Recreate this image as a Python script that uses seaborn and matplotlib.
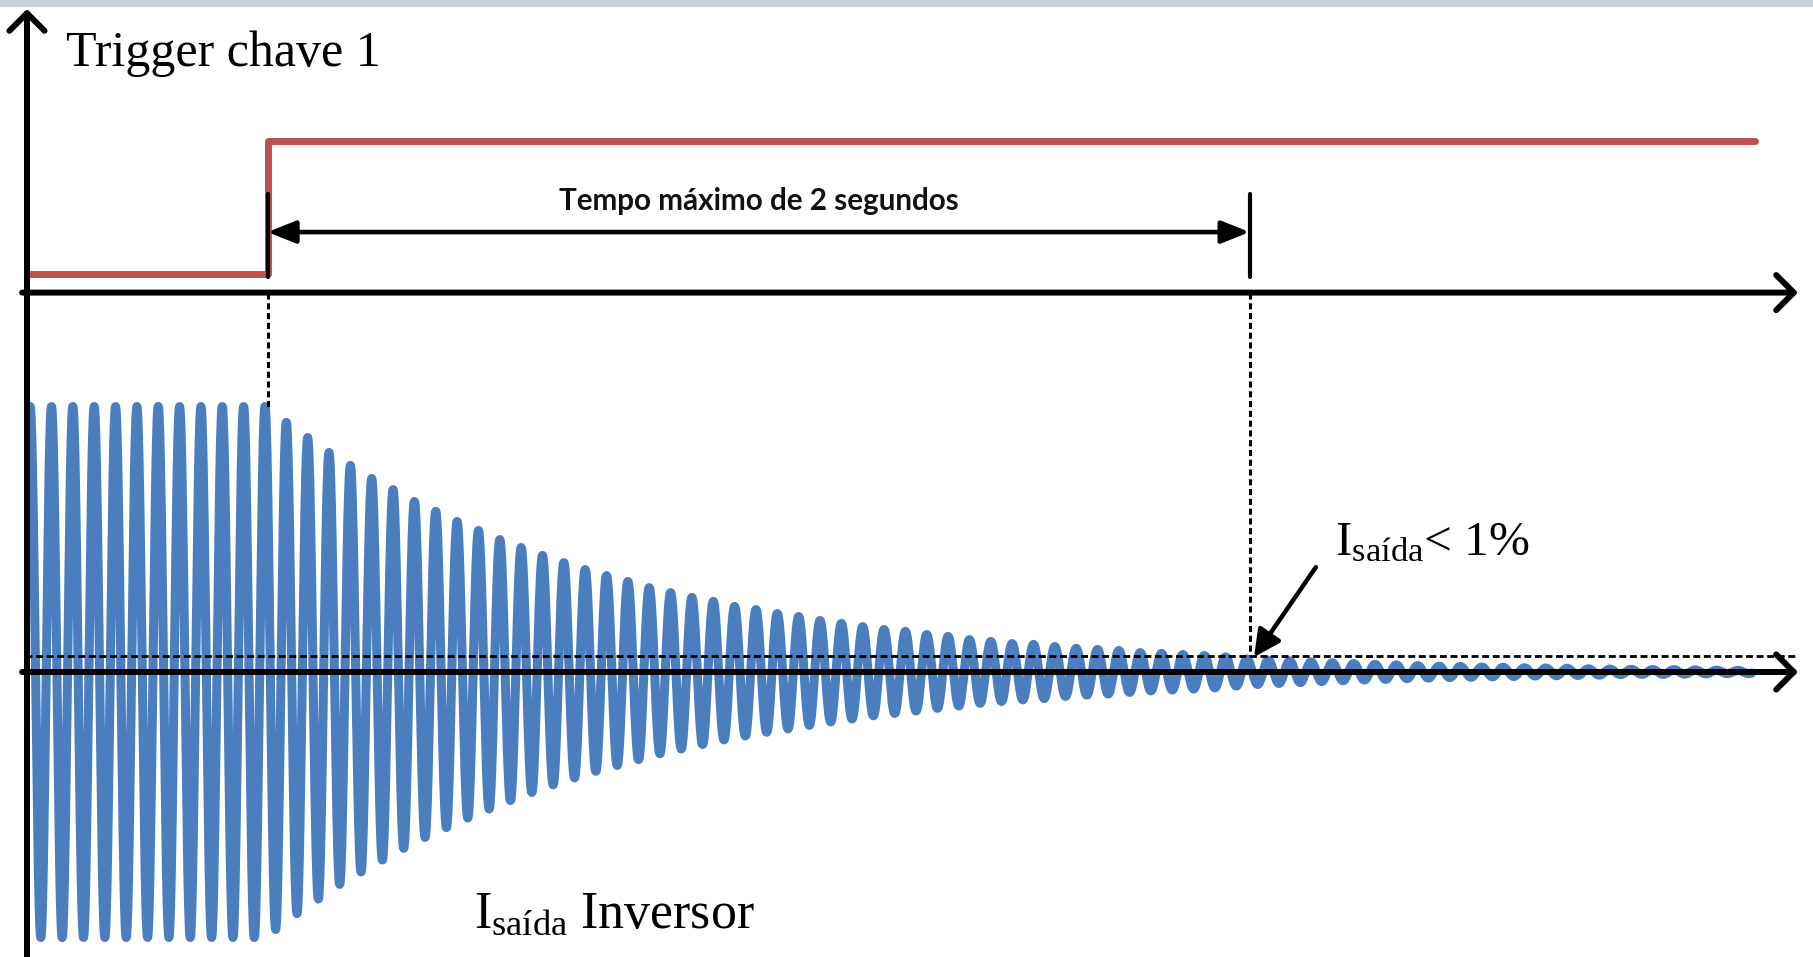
import numpy as np
import pandas as pd
import matplotlib
matplotlib.use("Agg")
import matplotlib.pyplot as plt
import seaborn as sns
from matplotlib.patches import Rectangle
from matplotlib import font_manager as fm

# ---------------- data ----------------
carrier_hz = 23.0          # inverter output frequency (schematic)
first_peak_s = 0.0064      # time of first positive peak (start of trace)
wave_end_s = 3.513         # end of plotted current
trigger_s = 0.49           # switch-1 trigger instant
window_s = 2.0             # "Tempo máximo de 2 segundos"
trigger_end_s = 3.519
trigger_low = 1.50
trigger_high = 2.00
upper_axis_y = 1.429       # baseline of trigger trace
threshold = 0.062          # "I_saída < 1%" level

# positive peak amplitudes, one per cycle
peak_amp = [1.0] * 12 + [
    0.940, 0.883, 0.827, 0.778, 0.729, 0.687, 0.642, 0.605, 0.567, 0.533,
    0.499, 0.469, 0.439, 0.412, 0.386, 0.363, 0.341, 0.318, 0.299, 0.281,
    0.266, 0.247, 0.235, 0.220, 0.209, 0.194, 0.183, 0.171, 0.160, 0.153,
    0.141, 0.134, 0.122, 0.115, 0.107, 0.104, 0.096, 0.089, 0.085, 0.081,
    0.073, 0.070, 0.066, 0.062,
    0.057, 0.049, 0.045, 0.042, 0.038, 0.035, 0.032, 0.029, 0.027, 0.024,
    0.022, 0.021, 0.019, 0.018, 0.016, 0.015, 0.014, 0.012, 0.011, 0.010,
    0.009, 0.009, 0.008, 0.007, 0.006]
# negative trough amplitudes, one per cycle (after each peak)
trough_amp = [1.0] * 11 + [
    0.970, 0.910, 0.855, 0.800, 0.753, 0.708, 0.664, 0.623, 0.586, 0.550,
    0.516, 0.484, 0.454, 0.425, 0.399, 0.374, 0.352, 0.330, 0.308, 0.290,
    0.273, 0.256, 0.241, 0.227, 0.214, 0.201, 0.188, 0.177, 0.165, 0.156,
    0.147, 0.137, 0.128, 0.118, 0.111, 0.105, 0.100, 0.092, 0.087, 0.083,
    0.077, 0.071, 0.068, 0.064, 0.060,
    0.053, 0.047, 0.043, 0.040, 0.036, 0.033, 0.030, 0.028, 0.025, 0.023,
    0.021, 0.020, 0.018, 0.017, 0.015, 0.014, 0.013, 0.012, 0.010, 0.009,
    0.009, 0.008, 0.007, 0.006, 0.006]

label_trigger = "Trigger chave 1"
label_window = "Tempo máximo de 2 segundos"
label_threshold = r"$\mathrm{I}_{\mathrm{saída}}$< 1%"
label_current = r"$\mathrm{I}_{\mathrm{saída}}$ Inversor"

# ---------------- layout ----------------
W, H, DPI = 1813, 957, 100
X0_PX, PX_PER_S = 27.0, 491.0
Y0_PX, PX_PER_U = 672.0, 265.5
BLUE, RED = "#4a7ebf", "#c0504d"

sns.set_theme(style="white")
plt.rcParams["mathtext.fontset"] = "custom"
plt.rcParams["mathtext.rm"] = "Liberation Serif"
plt.rcParams["mathtext.it"] = "Liberation Serif:italic"
plt.rcParams["font.family"] = ["Liberation Serif", "DejaVu Serif"]

fig = plt.figure(figsize=(W / DPI, H / DPI), dpi=DPI)
ax = fig.add_axes([0, 0, 1, 1])
ax.set_xlim((0 - X0_PX) / PX_PER_S, (W - X0_PX) / PX_PER_S)
ax.set_ylim((Y0_PX - H) / PX_PER_U, Y0_PX / PX_PER_U)
ax.axis("off")

# top band
fig.add_artist(Rectangle((0, 1 - 6 / H), 1, 6 / H, transform=fig.transFigure,
                         color="#c8d2dc", zorder=0))

# inverter current waveform
t = np.linspace(first_peak_s, wave_end_s, 24000)
phase = 2 * np.pi * carrier_hz * (t - first_peak_s)
k = np.floor((phase + np.pi / 2) / (2 * np.pi)).astype(int)
local = phase - 2 * np.pi * k
k = np.clip(k, 0, len(peak_amp) - 1)
P = np.array(peak_amp)
T = np.array(trough_amp)
amp = np.where(local < np.pi / 2, P[k], T[k])
current = amp * np.cos(local)
df_wave = pd.DataFrame({"t": t, "i": current})
sns.lineplot(data=df_wave, x="t", y="i", ax=ax, color=BLUE, linewidth=6.5,
             estimator=None, sort=False, zorder=2, solid_joinstyle="round")

# trigger signal
df_trig = pd.DataFrame({"t": [0, trigger_s, trigger_s, trigger_end_s],
                        "v": [trigger_low, trigger_low, trigger_high, trigger_high]})
sns.lineplot(data=df_trig, x="t", y="v", ax=ax, color=RED, linewidth=5,
             estimator=None, sort=False, zorder=3, solid_capstyle="round")

# dashed guides
dash = (0, (2.0, 1.2))
ax.plot([trigger_s, trigger_s], [upper_axis_y, peak_amp[0]], color="black",
        lw=2.2, linestyle=dash, zorder=4)
ax.plot([trigger_s + window_s] * 2, [upper_axis_y, threshold], color="black",
        lw=2.2, linestyle=dash, zorder=4)
ax.plot([-0.004, 3.603], [threshold, threshold], color="black", lw=2.0,
        linestyle=(0, (2.5, 1.3)), zorder=4)

# axes arrows
x_tip = (1798 - X0_PX) / PX_PER_S
open_arrow = dict(arrowstyle="->,head_length=0.55,head_width=0.55", lw=4.3,
                  color="black", shrinkA=0, shrinkB=0, mutation_scale=23)
ax.annotate("", xy=(x_tip, upper_axis_y), xytext=(-0.01, upper_axis_y),
            arrowprops=open_arrow, zorder=5)
ax.annotate("", xy=(x_tip, 0), xytext=(-0.01, 0), arrowprops=open_arrow, zorder=5)
ax.annotate("", xy=(0, (Y0_PX - 9) / PX_PER_U), xytext=(0, -1.2),
            arrowprops=open_arrow, zorder=5)

# window ticks and double arrow
tick_top, tick_bot = 1.80, 1.486
ax.plot([trigger_s] * 2, [tick_bot, tick_top], color="black", lw=3, zorder=5)
ax.plot([trigger_s + window_s] * 2, [tick_bot, tick_top], color="black", lw=3,
        zorder=5)
ax.annotate("", xy=(trigger_s + window_s, 1.657), xytext=(trigger_s, 1.657),
            arrowprops=dict(arrowstyle="<|-|>,head_length=1.0,head_width=0.4",
                            lw=3.3, color="black", shrinkA=0, shrinkB=0,
                            mutation_scale=17), zorder=5)

# pointer to threshold
ax.annotate("", xy=(trigger_s + window_s + 0.009, 0.056), xytext=(2.625, 0.395),
            arrowprops=dict(arrowstyle="-|>,head_length=0.9,head_width=0.45",
                            lw=3.2, color="black", shrinkA=0, shrinkB=0,
                            mutation_scale=18), zorder=6)

# texts
names = {f.name for f in fm.fontManager.ttflist}
sans_fam = "Lato" if "Lato" in names else "DejaVu Sans"

texts = []
t1 = ax.text((66 - X0_PX) / PX_PER_S, (Y0_PX - 66) / PX_PER_U, label_trigger,
             fontsize=36, color="black", ha="left", va="baseline")
texts.append((t1, 315))
t2 = ax.text(trigger_s + window_s / 2, (Y0_PX - 201) / PX_PER_U, label_window,
             fontsize=24, color="#111111", ha="center", va="center",
             family=[sans_fam, "DejaVu Sans"], fontweight="bold")
texts.append((t2, 400))
t3 = ax.text((1335 - X0_PX) / PX_PER_S, (Y0_PX - 555) / PX_PER_U, label_threshold,
             fontsize=36, color="black", ha="left", va="baseline")
texts.append((t3, 195))
t4 = ax.text((474 - X0_PX) / PX_PER_S, (Y0_PX - 928) / PX_PER_U, label_current,
             fontsize=36, color="black", ha="left", va="baseline")
texts.append((t4, 281))

fig.canvas.draw()
renderer = fig.canvas.get_renderer()
for txt, target in texts:
    bb = txt.get_window_extent(renderer)
    txt.set_fontsize(txt.get_fontsize() * target / bb.width)

fig.savefig("out.png", dpi=DPI)
